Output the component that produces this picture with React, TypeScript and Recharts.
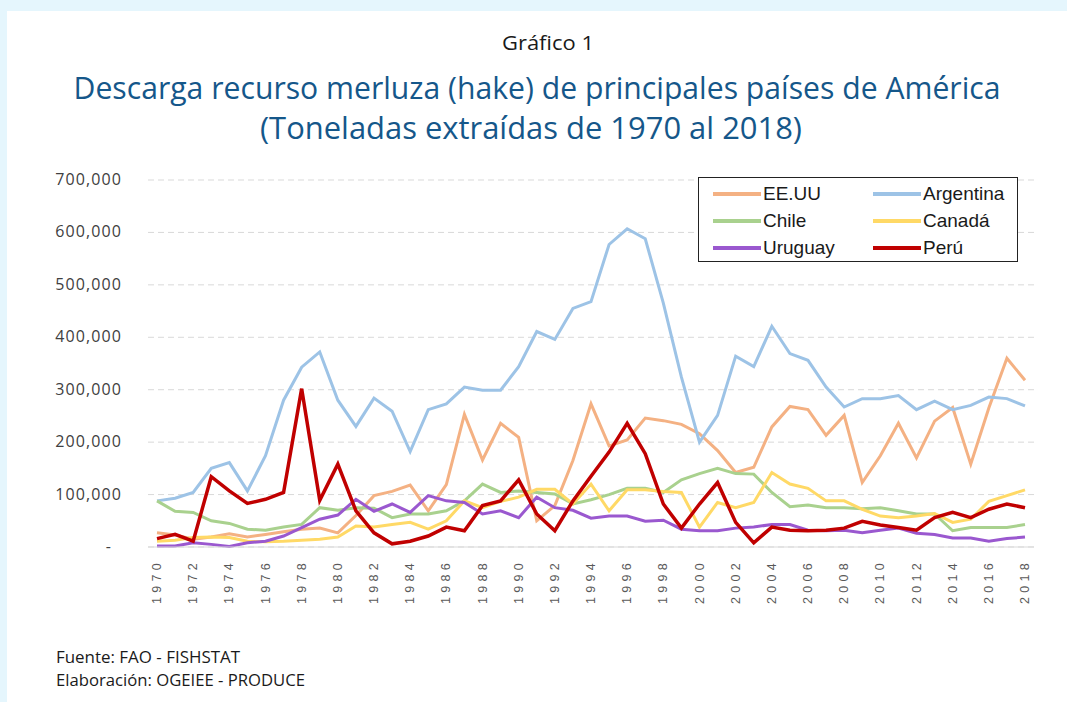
import React from 'react';
import { LineChart, Line, XAxis, YAxis, CartesianGrid } from 'recharts';

const years = [
  '1970', '1971', '1972', '1973', '1974', '1975', '1976', '1977', '1978', '1979',
  '1980', '1981', '1982', '1983', '1984', '1985', '1986', '1987', '1988', '1989',
  '1990', '1991', '1992', '1993', '1994', '1995', '1996', '1997', '1998', '1999',
  '2000', '2001', '2002', '2003', '2004', '2005', '2006', '2007', '2008', '2009',
  '2010', '2011', '2012', '2013', '2014', '2015', '2016', '2017', '2018',
];

const eeuu = [
  27000, 23000, 15000, 19000, 25000, 19000, 24000, 29000, 34000, 36000, 27000, 60000,
  98000, 106000, 118000, 69000, 119000, 253000, 166000, 236000, 209000, 50000, 79000, 165000, 273000,
  193000, 204000, 246000, 241000, 234000, 216000, 184000, 142000, 152000, 229000, 268000, 262000,
  213000, 251000, 123000, 174000, 236000, 170000, 240000, 266000, 158000, 265000, 360000, 318000,
];

const argentina = [
  88000, 93000, 104000, 150000, 161000, 107000, 174000, 280000, 343000, 372000, 280000, 230000,
  284000, 259000, 182000, 262000, 273000, 305000, 299000, 299000, 344000, 411000, 396000, 455000, 468000,
  577000, 607000, 588000, 465000, 324000, 200000, 251000, 364000, 344000, 421000, 369000, 356000,
  305000, 267000, 283000, 283000, 289000, 262000, 278000, 262000, 270000, 286000, 283000, 269000,
];

const chile = [
  88000, 68000, 66000, 50000, 45000, 34000, 32000, 38000, 43000, 75000, 70000, 75000,
  74000, 56000, 63000, 63000, 69000, 88000, 120000, 104000, 107000, 104000, 101000, 82000, 90000,
  100000, 112000, 112000, 104000, 128000, 140000, 150000, 140000, 139000, 104000, 77000, 80000,
  75000, 75000, 73000, 75000, 69000, 63000, 63000, 31000, 37000, 37000, 37000, 43000,
];

const canada = [
  11000, 13000, 18000, 19000, 18000, 11000, 10000, 11000, 13000, 15000, 19000, 40000,
  38000, 43000, 47000, 34000, 50000, 88000, 75000, 87000, 95000, 110000, 110000, 82000, 120000,
  69000, 109000, 109000, 106000, 104000, 38000, 85000, 75000, 85000, 142000, 120000, 112000,
  88000, 88000, 72000, 59000, 56000, 59000, 64000, 47000, 53000, 87000, 98000, 109000,
];

const uruguay = [
  2000, 2000, 8000, 5000, 1000, 8000, 11000, 21000, 37000, 53000, 61000, 91000,
  68000, 82000, 66000, 98000, 88000, 85000, 63000, 69000, 56000, 95000, 75000, 70000, 55000,
  59000, 59000, 49000, 51000, 34000, 31000, 31000, 36000, 38000, 43000, 43000, 32000,
  31000, 32000, 27000, 32000, 36000, 26000, 24000, 17000, 17000, 11000, 16000, 19000,
];

const peru = [
  16000, 24000, 11000, 134000, 107000, 83000, 91000, 104000, 302000, 89000, 158000, 69000,
  27000, 6000, 11000, 21000, 38000, 31000, 79000, 88000, 128000, 63000, 31000, 88000, 135000,
  181000, 236000, 178000, 82000, 36000, 82000, 123000, 47000, 8000, 38000, 32000, 31000,
  32000, 36000, 49000, 42000, 37000, 32000, 56000, 66000, 56000, 72000, 82000, 75000,
];

const yTicks = [0, 100000, 200000, 300000, 400000, 500000, 600000, 700000];

const series = [
  { key: 'eeuu', name: 'EE.UU', color: '#f4b183', width: 3 },
  { key: 'argentina', name: 'Argentina', color: '#9dc3e6', width: 3 },
  { key: 'chile', name: 'Chile', color: '#a9d18e', width: 3 },
  { key: 'canada', name: 'Canadá', color: '#ffd966', width: 3 },
  { key: 'uruguay', name: 'Uruguay', color: '#9a58cf', width: 3 },
  { key: 'peru', name: 'Perú', color: '#c00000', width: 3.5 },
];

const data = years.map((year, i) => ({
  year,
  eeuu: eeuu[i],
  argentina: argentina[i],
  chile: chile[i],
  canada: canada[i],
  uruguay: uruguay[i],
  peru: peru[i],
}));

const YTick = (props: any) => {
  const { y, payload } = props;
  const v = payload.value;
  return (
    <text
      x={v === 0 ? 112 : 122}
      y={y + 5}
      textAnchor="end"
      fontSize={16}
      letterSpacing={1.1}
      fill="#404040"
      fontFamily="'Open Sans', sans-serif"
    >
      {v === 0 ? '-' : v.toLocaleString('en-US')}
    </text>
  );
};

const XTick = (props: any) => {
  const { x, y, payload } = props;
  const ty = y + 4;
  return (
    <text
      x={x}
      y={ty}
      transform={`rotate(-90, ${x}, ${ty})`}
      textAnchor="end"
      dominantBaseline="central"
      fontSize={12.5}
      letterSpacing={4.3}
      fill="#595959"
      fontFamily="'Liberation Sans', Arial, sans-serif"
    >
      {payload.value}
    </text>
  );
};

const legendCols = [
  [series[0], series[2], series[4]],
  [series[1], series[3], series[5]],
];

export default function App() {
  return (
    <div style={{ position: 'relative', width: 1067, height: 702, background: '#e5f6fd', overflow: 'hidden' }}>
      <style>{'body{margin:0}'}</style>
      <div style={{ position: 'absolute', left: 7, top: 11, right: 0, bottom: 0, background: '#ffffff' }} />

      <svg width={1067} height={702} style={{ position: 'absolute', left: 0, top: 0 }}>
        <text x={548} y={50} textAnchor="middle" fontSize={20} fill="#1a1a1a" fontFamily="'Open Sans', sans-serif" textLength={92} lengthAdjust="spacingAndGlyphs">
          Gráfico 1
        </text>
        <text x={537} y={99} textAnchor="middle" fontSize={31} fill="#15578a" fontFamily="'Open Sans', sans-serif" textLength={927} lengthAdjust="spacingAndGlyphs">
          Descarga recurso merluza (hake) de principales países de América
        </text>
        <text x={531} y={139} textAnchor="middle" fontSize={31} fill="#15578a" fontFamily="'Open Sans', sans-serif" textLength={542} lengthAdjust="spacingAndGlyphs">
          (Toneladas extraídas de 1970 al 2018)
        </text>
        <text x={56} y={663} fontSize={16} fill="#1a1a1a" fontFamily="'Open Sans', sans-serif" textLength={184} lengthAdjust="spacingAndGlyphs">
          Fuente: FAO - FISHSTAT
        </text>
        <text x={56} y={686} fontSize={16} fill="#1a1a1a" fontFamily="'Open Sans', sans-serif" textLength={249} lengthAdjust="spacingAndGlyphs">
          Elaboración: OGEIEE - PRODUCE
        </text>
      </svg>

      <div style={{ position: 'absolute', left: 0, top: 0 }}>
        <LineChart width={1067} height={640} data={data} margin={{ top: 180, right: 33, left: 68, bottom: 33 }}>
          <CartesianGrid vertical={false} stroke="#d9d9d9" strokeDasharray="6 4" />
          <XAxis
            dataKey="year"
            interval={1}
            tick={XTick}
            tickLine={false}
            axisLine={{ stroke: '#d9d9d9' }}
            height={60}
            padding={{ left: 9, right: 9 }}
          />
          <YAxis
            domain={[0, 700000]}
            ticks={yTicks}
            width={80}
            axisLine={false}
            tickLine={false}
            tick={YTick}
          />
          {series.map((s) => (
            <Line
              key={s.key}
              type="linear"
              dataKey={s.key}
              name={s.name}
              stroke={s.color}
              strokeWidth={s.width}
              dot={false}
              isAnimationActive={false}
            />
          ))}
        </LineChart>
      </div>

      <div
        style={{
          position: 'absolute',
          left: 698,
          top: 177,
          width: 320,
          height: 85,
          border: '1.5px solid #222',
          background: '#fff',
          boxSizing: 'border-box',
          fontFamily: "'Liberation Sans', Arial, sans-serif",
          fontSize: 19,
          color: '#1a1a1a',
        }}
      >
        {legendCols.map((col, ci) =>
          col.map((s, ri) => (
            <div
              key={s.key}
              style={{
                position: 'absolute',
                left: ci === 0 ? 14 : 174,
                top: 4 + ri * 27,
                height: 24,
                display: 'flex',
                alignItems: 'center',
              }}
            >
              <span style={{ display: 'inline-block', width: 48, height: 4, background: s.color, marginRight: 2 }} />
              <span>{s.name}</span>
            </div>
          ))
        )}
      </div>
    </div>
  );
}
